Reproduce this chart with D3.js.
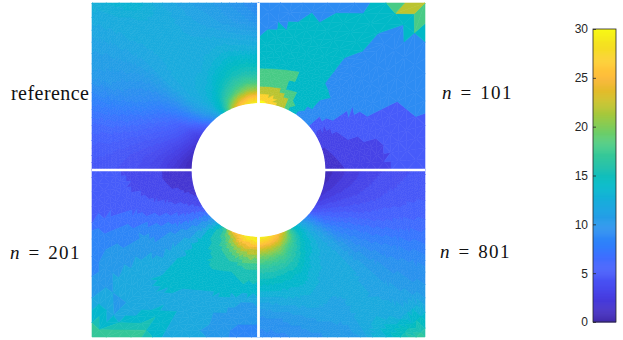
<!DOCTYPE html>
<html>
<head>
<meta charset="utf-8">
<script src="https://cdn.jsdelivr.net/npm/d3@7"></script>
<style>
    html, body { margin: 0; padding: 0; background: #fff; }
    svg { display: block; }
</style>
</head>
<body>
<script>
// mesh stations: angle from the horizontal axis (deg), fraction of the way from hole to plate edge
const angles = [0, 7.5, 15, 22.5, 30, 37.5, 45, 52.5, 60, 67.5, 75, 82.5, 90];
const radial = [0, 0.06, 0.13, 0.21, 0.3, 0.4, 0.52, 0.66, 0.82, 1];

const referenceValues = [
    [0.5, 1, 1.5, 2, 2.8, 3.3, 3.8, 4.2, 4.5, 4.6],
    [0.8, 1.3, 2, 2.6, 3.2, 3.7, 4.2, 4.6, 5, 5.2],
    [1.3, 2, 2.8, 3.5, 4.2, 4.7, 5.1, 5.6, 6, 6.2],
    [1.8, 2.8, 3.8, 4.7, 5.3, 5.8, 6.5, 7.2, 7.7, 8],
    [2.5, 3.5, 4.8, 5.7, 6.7, 7.4, 8.5, 9.2, 10, 10.4],
    [4.3, 6, 7.5, 8.4, 9, 9.6, 10, 10.6, 11, 11.3],
    [7, 9.5, 11, 11.6, 11.8, 11.8, 11.8, 11.9, 12.1, 12.6],
    [10.5, 12, 12.5, 12.5, 12.3, 12.2, 12.1, 12.1, 12.2, 13.4],
    [15, 14.5, 14, 13.3, 12.8, 12.3, 12, 12, 12, 12],
    [22, 19, 16.5, 15, 14, 13.2, 12.5, 12, 11.5, 11],
    [26.5, 23, 19, 16.5, 15, 14, 13, 12, 11, 10.5],
    [29, 25.5, 21, 17.8, 15.5, 14.4, 13, 11.8, 10.4, 9.8],
    [30, 26.5, 21.5, 18, 15.5, 14.3, 13, 11.5, 9.8, 9]
];
const n101Values = [
    [1, 1.2, 1.5, 2, 2.5, 3, 3, 3.5, 5, 5],
    [1, 1.5, 2, 2.5, 3, 3, 3, 4.5, 7, 5],
    [1.5, 2, 2.5, 3, 3, 4, 4, 5, 6, 6],
    [2.2, 2.5, 3, 4, 5, 5, 6, 5.5, 7, 8.5],
    [3.5, 3, 4.5, 5, 6, 7.5, 9, 9, 9, 9],
    [6, 5, 8, 9, 9, 10, 9, 9, 9, 9],
    [9, 9, 10, 11, 10, 9, 10, 9, 11, 26],
    [10, 11, 13, 14, 11, 11, 12, 13, 13, 15],
    [13, 14, 15, 16, 14, 14, 14, 12, 14, 9],
    [20, 21, 17, 14, 17, 14, 14, 14, 12, 9],
    [24, 23, 22, 18, 17, 14, 14, 14, 12, 9],
    [29, 25, 22, 18, 17, 14, 14, 14, 10, 9],
    [30, 27, 22.5, 18.5, 17, 14, 14, 12, 9, 9]
];
const n201Values = [
    [1, 1, 1.5, 1.5, 2.5, 3, 3.5, 4, 4.5, 5],
    [1, 1.3, 1.7, 2, 2.7, 3, 3.5, 4.5, 4.5, 5],
    [1.5, 2, 2.7, 3, 3.7, 4, 5, 5, 5.5, 5.5],
    [2.5, 3, 3.7, 4.5, 5, 5.5, 6.5, 7.5, 7.5, 9],
    [3.5, 4.5, 5.5, 6, 7.5, 8, 10, 9, 11, 8],
    [6, 7, 8, 9, 10, 10, 11, 11.5, 11, 11],
    [9, 10, 11, 11.5, 12, 12, 12.5, 11, 11, 18],
    [12, 13.5, 14, 14, 13.5, 14.5, 14.5, 11.5, 14, 18],
    [17, 16, 15, 14.5, 14, 14, 13, 12, 13, 12],
    [25, 20, 18, 16, 16, 14, 13, 12, 12, 12],
    [27, 25, 21, 18, 15, 14, 14, 12, 10.5, 10],
    [30, 27, 23, 20, 17, 15, 14, 11, 9.5, 9],
    [30, 28, 23, 20, 16.5, 15, 14, 11.5, 9.5, 9]
];
const n801Values = [
    [0.5, 1, 1.5, 2, 2.5, 3, 3.3, 3.8, 4.3, 4.7],
    [0.8, 1.3, 1.8, 2.3, 2.8, 3.3, 3.8, 4.3, 4.7, 5],
    [1.2, 1.8, 2.4, 3, 3.5, 4, 4.5, 5, 5.4, 5.7],
    [1.8, 2.6, 3.4, 4.1, 4.7, 5.2, 5.8, 6.3, 6.9, 7.3],
    [3, 4, 5, 5.8, 6.6, 7.2, 7.8, 8.4, 8.9, 9.3],
    [4.5, 6, 7.2, 8, 8.8, 9.3, 9.8, 10, 10.3, 10.5],
    [8.5, 10, 10.8, 11.2, 11.5, 11.5, 11.5, 11.5, 12, 17],
    [12, 13, 12.8, 12.5, 12, 12, 11.8, 11.7, 12.3, 13.5],
    [15, 15.5, 14.8, 14, 13, 12.5, 12, 11.5, 11, 10.5],
    [22, 20, 17.5, 16, 15, 13.8, 13, 12, 11, 10],
    [26, 24, 20.5, 18, 16, 14.5, 13.3, 12, 10.5, 9.5],
    [29, 26, 22, 19, 16.5, 15, 13.5, 11.8, 10, 9],
    [30, 27, 23, 19.5, 17, 15, 13.7, 11.5, 9.8, 8.8]
];

// colour bar
const barTicks = [0, 5, 10, 15, 20, 25, 30];
const parula = [
    [0.2422, 0.1504, 0.6603], [0.2504, 0.1650, 0.7076], [0.2578, 0.1818, 0.7511], [0.2647, 0.1978, 0.7952],
    [0.2706, 0.2147, 0.8364], [0.2751, 0.2342, 0.8710], [0.2783, 0.2559, 0.8991], [0.2803, 0.2782, 0.9221],
    [0.2813, 0.3006, 0.9414], [0.2810, 0.3228, 0.9579], [0.2795, 0.3447, 0.9717], [0.2760, 0.3667, 0.9829],
    [0.2699, 0.3892, 0.9906], [0.2602, 0.4123, 0.9952], [0.2440, 0.4358, 0.9988], [0.2206, 0.4603, 0.9973],
    [0.1963, 0.4847, 0.9892], [0.1834, 0.5074, 0.9798], [0.1786, 0.5289, 0.9682], [0.1764, 0.5499, 0.9520],
    [0.1687, 0.5703, 0.9359], [0.1540, 0.5902, 0.9218], [0.1460, 0.6091, 0.9079], [0.1380, 0.6276, 0.8973],
    [0.1248, 0.6459, 0.8883], [0.1113, 0.6635, 0.8763], [0.0952, 0.6798, 0.8598], [0.0689, 0.6948, 0.8394],
    [0.0297, 0.7082, 0.8163], [0.0036, 0.7203, 0.7917], [0.0067, 0.7312, 0.7660], [0.0433, 0.7411, 0.7394],
    [0.0964, 0.7500, 0.7120], [0.1408, 0.7584, 0.6842], [0.1717, 0.7670, 0.6554], [0.1938, 0.7758, 0.6251],
    [0.2161, 0.7843, 0.5923], [0.2470, 0.7918, 0.5567], [0.2906, 0.7973, 0.5188], [0.3406, 0.8008, 0.4789],
    [0.3909, 0.8029, 0.4354], [0.4456, 0.8024, 0.3909], [0.5044, 0.7993, 0.3480], [0.5616, 0.7942, 0.3045],
    [0.6174, 0.7876, 0.2612], [0.6720, 0.7793, 0.2227], [0.7242, 0.7698, 0.1910], [0.7738, 0.7598, 0.1646],
    [0.8203, 0.7498, 0.1535], [0.8634, 0.7406, 0.1596], [0.9035, 0.7330, 0.1774], [0.9393, 0.7288, 0.2100],
    [0.9728, 0.7298, 0.2394], [0.9956, 0.7434, 0.2371], [0.9970, 0.7659, 0.2199], [0.9952, 0.7861, 0.1990],
    [0.9892, 0.8137, 0.1885], [0.9786, 0.8278, 0.1719], [0.9676, 0.8515, 0.1553], [0.9610, 0.8720, 0.1423],
    [0.9597, 0.8914, 0.1245], [0.9628, 0.9204, 0.1096], [0.9691, 0.9500, 0.0950], [0.9769, 0.9839, 0.0805]
].map(c => d3.rgb(c[0] * 255, c[1] * 255, c[2] * 255).formatHex());

// constants
const WIDTH = 623;
const HEIGHT = 340;
const HOLE = 0.4;   // hole radius in plate units, the plate runs from -1 to 1

const xScale = d3.scaleLinear().domain([-1, 1]).range([92, 425]);
const yScale = d3.scaleLinear().domain([-1, 1]).range([337, 3]);
const colorScale = d3.scaleLinear()
    .domain(parula.map((c, i) => i * 30 / (parula.length - 1)))
    .range(parula)
    .clamp(true);

// piecewise mapping from grid index to mesh station
const angleAt = d3.scaleLinear().domain(d3.range(angles.length)).range(angles);
const radialAt = d3.scaleLinear().domain(d3.range(radial.length)).range(radial);

// coarse meshes only show a few colour levels
const coarseEdges = [2, 4, 7, 11.5, 16, 20, 24, 28.5];
const coarseLevels = [1.5, 3, 5, 9, 14, 18, 22, 27, 30];
const coarse = d3.scaleThreshold().domain(coarseEdges).range(coarseLevels);
const rounded = step => v => Math.round(v / step) * step;

const panels = [
    { values: referenceValues, sx: -1, sy: 1, refine: 6, level: rounded(30 / 64) },
    { values: n101Values, sx: 1, sy: 1, refine: 2, level: coarse },
    { values: n201Values, sx: -1, sy: -1, refine: 3, level: rounded(1.7) },
    { values: n801Values, sx: 1, sy: -1, refine: 5, level: rounded(0.8) }
];

const svg = d3.select("body")
    .append("svg")
    .attr("width", WIDTH)
    .attr("height", HEIGHT);

// value inside the mesh, bilinear between the stations
function valueAt(values, u, v) {
    const i = Math.min(Math.floor(u), angles.length - 2);
    const j = Math.min(Math.floor(v), radial.length - 2);
    const a = u - i;
    const b = v - j;
    return d3.interpolateNumber(
        d3.interpolateNumber(values[i][j], values[i][j + 1])(b),
        d3.interpolateNumber(values[i + 1][j], values[i + 1][j + 1])(b)
    )(a);
}

// mesh position for a grid location in the quadrant
function meshPoint(panel, u, v) {
    const rad = angleAt(u) * Math.PI / 180;
    const edge = 1 / Math.max(Math.cos(rad), Math.sin(rad));
    const r = HOLE + radialAt(v) * (edge - HOLE);
    return [xScale(panel.sx * r * Math.cos(rad)), yScale(panel.sy * r * Math.sin(rad))];
}

function meshTriangles(panel) {
    const tris = [];
    const nu = (angles.length - 1) * panel.refine;
    const nv = (radial.length - 1) * panel.refine;
    for (let a = 0; a < nu; a++) {
        for (let b = 0; b < nv; b++) {
            const corners = [[a, b], [a + 1, b], [a + 1, b + 1], [a, b + 1]];
            // flip the diagonal on every other cell
            const pair = (a + b) % 2 === 0
                ? [[0, 1, 2], [0, 2, 3]]
                : [[0, 1, 3], [1, 2, 3]];
            pair.forEach(idx => {
                const nodes = idx.map(k => corners[k]).map(c => [c[0] / panel.refine, c[1] / panel.refine]);
                tris.push({
                    points: nodes.map(n => meshPoint(panel, n[0], n[1])),
                    value: d3.mean(nodes, n => valueAt(panel.values, n[0], n[1]))
                });
            });
        }
    }
    return tris;
}

const line = d3.line();

panels.forEach(panel => {
    svg.append("g")
        .selectAll("path")
        .data(meshTriangles(panel))
        .enter()
        .append("path")
        .attr("d", d => line(d.points) + "Z")
        .attr("fill", d => colorScale(panel.level(d.value)))
        .attr("stroke", d => colorScale(panel.level(d.value)))
        .attr("stroke-width", 0.6)
        .attr("stroke-linejoin", "round");
});

// hole and the white cross between the quadrants
svg.append("circle")
    .attr("cx", xScale(0))
    .attr("cy", yScale(0))
    .attr("r", xScale(HOLE) - xScale(0) + 0.3)
    .attr("fill", "#fff");

svg.append("line")
    .attr("x1", xScale(0)).attr("x2", xScale(0))
    .attr("y1", yScale(1)).attr("y2", yScale(-1))
    .attr("stroke", "#fff")
    .attr("stroke-width", 2.8);

svg.append("line")
    .attr("x1", xScale(-1)).attr("x2", xScale(1))
    .attr("y1", yScale(0)).attr("y2", yScale(0))
    .attr("stroke", "#fff")
    .attr("stroke-width", 2.4);

// quadrant labels
svg.append("text")
    .attr("x", 11)
    .attr("y", 100)
    .attr("font-family", "'Liberation Serif', serif")
    .attr("font-size", 20)
    .attr("fill", "#111")
    .attr("textLength", 78)
    .text("reference");

function nLabel(count, x, y) {
    const t = svg.append("text")
        .attr("x", x)
        .attr("y", y)
        .attr("font-family", "'Liberation Serif', serif")
        .attr("font-size", 19)
        .attr("fill", "#111");
    t.append("tspan").attr("font-style", "italic").text("n");
    t.append("tspan").attr("dx", 9).text("=");
    t.append("tspan").attr("dx", 9).attr("letter-spacing", 1.4).text(count);
}
nLabel("101", 442, 99);
nLabel("201", 10, 259);
nLabel("801", 440, 258);

// colour bar
const barScale = d3.scaleLinear().domain([0, 30]).range([322, 29]);
const BAR_LEFT = 593;
const BAR_RIGHT = 616;

svg.append("g")
    .selectAll("rect")
    .data(d3.range(0, 30, 0.1))
    .enter()
    .append("rect")
    .attr("x", BAR_LEFT)
    .attr("y", d => barScale(d + 0.1))
    .attr("width", BAR_RIGHT - BAR_LEFT)
    .attr("height", d => barScale(d) - barScale(d + 0.1) + 0.5)
    .attr("fill", d => colorScale(d));

svg.append("rect")
    .attr("x", BAR_LEFT)
    .attr("y", 29)
    .attr("width", BAR_RIGHT - BAR_LEFT)
    .attr("height", 293)
    .attr("fill", "none")
    .attr("stroke", "#262626")
    .attr("stroke-width", 0.8);

const barAxis = svg.append("g")
    .attr("transform", `translate(${BAR_LEFT},0)`)
    .call(d3.axisLeft(barScale).tickValues(barTicks).tickSizeInner(-3).tickSizeOuter(0).tickPadding(5));
barAxis.select(".domain").remove();
barAxis.selectAll("line").attr("stroke", "#262626").attr("stroke-width", 0.8);
barAxis.selectAll("text")
    .attr("font-family", "'Liberation Sans', Arial, sans-serif")
    .attr("font-size", 12)
    .attr("fill", "#262626");
</script>
</body>
</html>
